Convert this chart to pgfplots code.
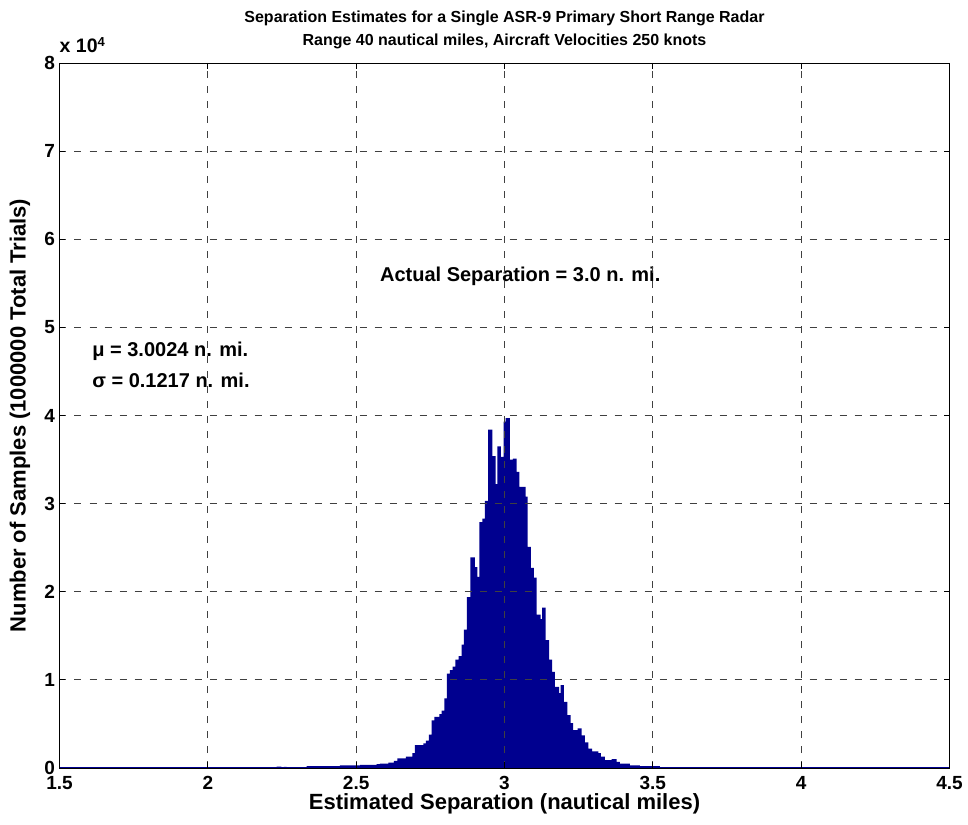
\documentclass[border=0pt]{standalone}
\usepackage{pgfplots}
\pgfplotsset{compat=1.18}
\usepackage{fontspec}
\setmainfont{Liberation Sans}
\definecolor{matblue}{RGB}{0,0,143}
\newcommand{\tickf}{\fontsize{19}{22}\selectfont\bfseries}
\newcommand{\labf}{\fontsize{22}{25}\selectfont\bfseries}
\newcommand{\titf}{\fontsize{16}{23}\selectfont\bfseries}
\newcommand{\txtf}{\fontsize{20}{23}\selectfont\bfseries}
\begin{document}
\begin{tikzpicture}
\begin{axis}[
  name=ax, at={(0,0)}, anchor=south west,
  scale only axis, width=890pt, height=705pt,
  xmin=1.5, xmax=4.5, ymin=0, ymax=8,
  xtick={1.5,2,2.5,3,3.5,4,4.5},
  ytick={0,1,2,3,4,5,6,7,8},
  xticklabels={1.5,2,2.5,3,3.5,4,4.5},
  yticklabels={0,1,2,3,4,5,6,7,8},
  tick align=inside, major tick length=6pt,
  tick style={black, line width=0.8pt},
  axis line style={black, line width=0.8pt},
  grid=major,
  major grid style={black!75, line width=0.8pt, dash pattern=on 7pt off 8pt},
  ticklabel style={font=\tickf},
  xticklabel style={yshift=-5pt},
  yticklabel style={xshift=-1pt},
  title style={font=\titf, align=center, at={(axis description cs:0.5,1)}, anchor=center, yshift=27pt},
  title={Separation Estimates for a Single ASR-9 Primary Short Range Radar\\Range 40 nautical miles, Aircraft Velocities 250 knots},
  xlabel={Estimated Separation (nautical miles)},
  ylabel={Number of Samples (1000000 Total Trials)},
  label style={font=\labf},
  xlabel style={at={(axis description cs:0.5,0)}, anchor=center, yshift=-36pt},
  ylabel style={at={(axis description cs:-0.0444,0.5)}, anchor=center},
  axis on top,
]
\addplot[const plot, fill=matblue, draw=none] coordinates {
(2.200,0.003) (2.232,0.015) (2.248,0.004) (2.256,0.012) (2.266,0.004)
(2.333,0.02) (2.445,0.03) (2.513,0.035) (2.569,0.045) (2.5802,0.05)
(2.6082,0.06) (2.6274,0.08) (2.6385,0.11) (2.6678,0.13) (2.6891,0.17)
(2.6982,0.26) (2.7262,0.28) (2.7353,0.31) (2.7454,0.38) (2.7545,0.54)
(2.7632,0.58) (2.7801,0.61) (2.7882,0.65) (2.7969,0.79) (2.8060,1.07)
(2.8161,1.11) (2.8252,1.15) (2.8340,1.23) (2.8455,1.27) (2.8556,1.40)
(2.8633,1.57) (2.8735,1.94) (2.8846,2.39) (2.9004,2.28) (2.9082,2.17)
(2.9149,2.79) (2.9250,2.83) (2.9341,3.03) (2.9452,3.84) (2.9587,3.54)
(2.9702,3.22) (2.9756,3.65) (2.9880,3.53) (2.9971,3.93) (3.0039,3.97)
(3.0184,3.50) (3.0285,3.51) (3.0409,3.36) (3.0497,3.19) (3.0713,3.08)
(3.0780,2.51) (3.0891,2.27) (3.0993,2.16) (3.1084,1.74) (3.1218,1.69)
(3.1272,1.82) (3.1387,1.45) (3.1508,1.23) (3.1609,1.09) (3.1700,0.92)
(3.1845,0.85) (3.1892,0.94) (3.2004,0.75) (3.2115,0.60) (3.2230,0.51)
(3.2317,0.43) (3.2466,0.45) (3.2600,0.37) (3.2711,0.29) (3.2823,0.22)
(3.2957,0.19) (3.3160,0.17) (3.3251,0.13) (3.3385,0.09) (3.3611,0.10)
(3.3780,0.07) (3.3891,0.05) (3.4228,0.03) (3.4565,0.02) (3.5239,0.01)
(3.5913,0.005) (3.66,0)
} \closedcycle;
\addplot[matblue, line width=1.6pt] coordinates {(1.5,0) (4.5,0)};
\node[font=\txtf, anchor=base west, inner sep=0pt] at (axis cs:2.58,5.52) {Actual Separation = 3.0 n. mi.};
\node[font=\txtf, anchor=base west, inner sep=0pt] at (axis cs:1.61,4.665) {μ = 3.0024 n. mi.};
\node[font=\txtf, anchor=base west, inner sep=0pt] at (axis cs:1.61,4.313) {σ = 0.1217 n. mi.};
\end{axis}
\node[font=\fontsize{19.5}{22}\selectfont\bfseries, anchor=base west, inner sep=0pt] at (ax.north west) [yshift=10pt] {x 10\raisebox{6pt}{\fontsize{13}{14}\selectfont 4}};
\pgfresetboundingbox
\path (-59.5pt,-56pt) rectangle (908.5pt,768pt);
\end{tikzpicture}
\end{document}
